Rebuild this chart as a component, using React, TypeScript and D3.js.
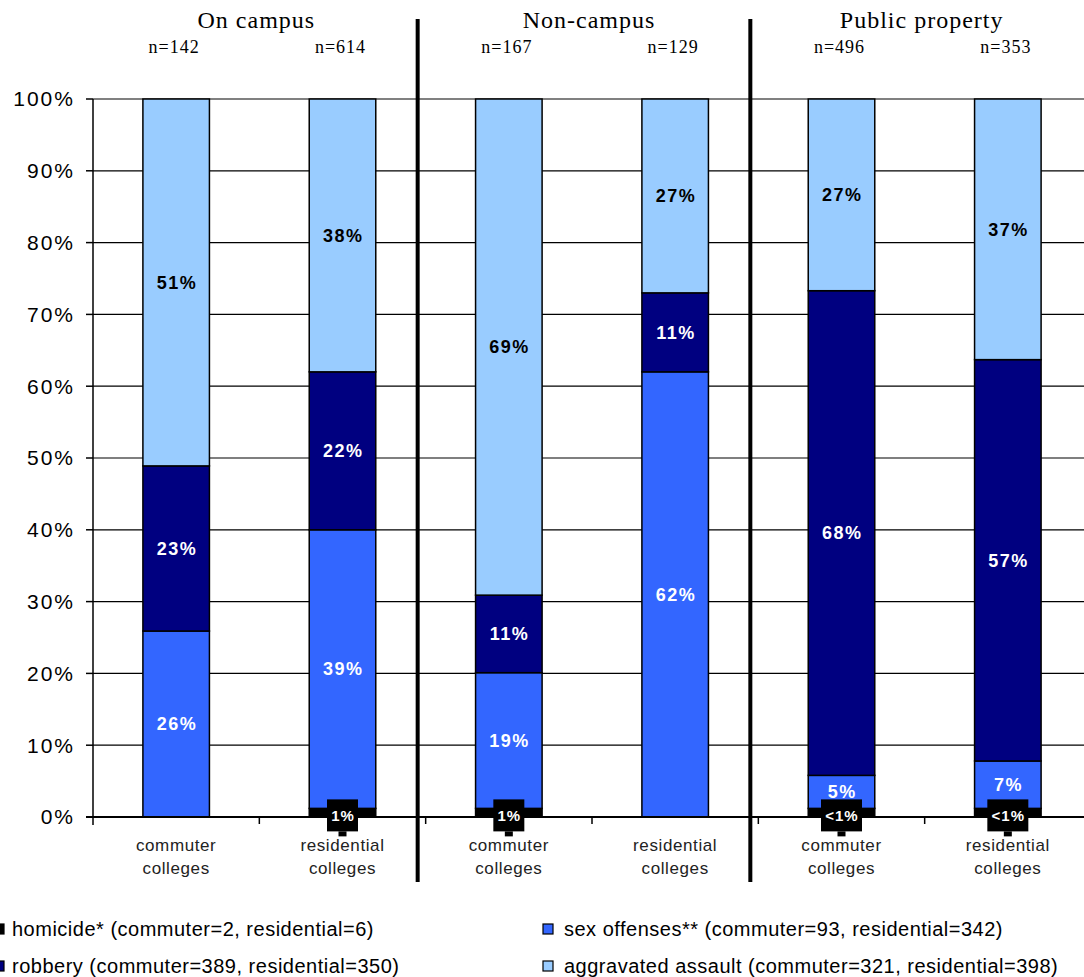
import React from 'react';
import * as d3 from 'd3';

const groups = ['On campus', 'Non-campus', 'Public property'];
const barKeys = ['oc-c', 'oc-r', 'nc-c', 'nc-r', 'pp-c', 'pp-r'];
const barGroup = [0, 0, 1, 1, 2, 2];
const collegeLines = [['commuter', 'colleges'], ['residential', 'colleges']];
const barCollege = [0, 1, 0, 1, 0, 1];
const nCounts = [142, 614, 167, 129, 496, 353];

const homicide = [0, 1.2, 1.2, 0, 1.2, 1.2];
const sexOffenses = [25.9, 38.8, 18.9, 62, 4.6, 6.6];
const robbery = [23, 22, 10.8, 11, 67.5, 55.9];
const aggravated = [51.1, 38, 69.1, 27, 26.7, 36.3];

const homicideLabels = ['', '1%', '1%', '', '<1%', '<1%'];
const sexLabels = ['26%', '39%', '19%', '62%', '5%', '7%'];
const robberyLabels = ['23%', '22%', '11%', '11%', '68%', '57%'];
const aggLabels = ['51%', '38%', '69%', '27%', '27%', '37%'];

const yTicks = [0, 10, 20, 30, 40, 50, 60, 70, 80, 90, 100];

const seriesKeys = ['homicide', 'sex', 'robbery', 'agg'];
const seriesColors = ['#000000', '#3366FF', '#000080', '#99CCFF'];
const legendTexts = [
  'homicide* (commuter=2, residential=6)',
  'sex offenses** (commuter=93, residential=342)',
  'robbery (commuter=389, residential=350)',
  'aggravated assault (commuter=321, residential=398)',
];
const legendColors = ['#000000', '#3366FF', '#000080', '#99CCFF'];

const W = 1084;
const H = 977;
const plotLeft = 93;
const plotRight = 1091;
const plotTop = 99;
const plotBottom = 817;

export default function App() {
  const x = d3.scaleBand<string>().domain(barKeys).range([plotLeft, plotRight]).paddingInner(0.6).paddingOuter(0.3);
  const y = d3.scaleLinear().domain([0, 100]).range([plotBottom, plotTop]);

  const table = barKeys.map((k, i) => ({
    key: k,
    homicide: homicide[i],
    sex: sexOffenses[i],
    robbery: robbery[i],
    agg: aggravated[i],
  }));
  const stacked = d3.stack<any>().keys(seriesKeys)(table);
  const labelSets: Record<string, string[]> = { homicide: homicideLabels, sex: sexLabels, robbery: robberyLabels, agg: aggLabels };

  const step = x.step();
  const boundaries = d3.range(1, barKeys.length).map(i => plotLeft + i * step);
  const dividers = [boundaries[1] - 8, boundaries[3] - 8];
  const bw = x.bandwidth();
  const cx = (i: number) => (x(barKeys[i]) as number) + bw / 2;

  const font = 'Arial, "Liberation Sans", Helvetica, sans-serif';
  const serif = '"Times New Roman", "Liberation Serif", Times, serif';

  return (
    <svg width={W} height={H} style={{ position: 'absolute', left: 0, top: 0, background: '#fff' }}>
      {/* gridlines */}
      {yTicks.filter(t => t > 0 && t < 100).map(t => (
        <line key={t} x1={plotLeft} x2={W} y1={y(t)} y2={y(t)} stroke="#000" strokeWidth={1.2} />
      ))}
      <line x1={plotLeft} x2={W} y1={y(100)} y2={y(100)} stroke="#808080" strokeWidth={2} />

      {/* bars */}
      {stacked.map((s, si) => (
        <g key={s.key}>
          {s.map((d, i) => {
            const h = y(d[0]) - y(d[1]);
            if (h <= 0) return null;
            return (
              <rect key={i} x={x(barKeys[i])} y={y(d[1])} width={bw} height={h}
                fill={seriesColors[si]} stroke="#000" strokeWidth={1.5} />
            );
          })}
        </g>
      ))}

      {/* axes */}
      <line x1={plotLeft} x2={plotLeft} y1={plotTop} y2={plotBottom + 8} stroke="#000" strokeWidth={1.5} />
      {yTicks.map(t => (
        <line key={t} x1={plotLeft - 7} x2={plotLeft} y1={y(t)} y2={y(t)} stroke="#000" strokeWidth={1.5} />
      ))}
      <line x1={plotLeft - 7} x2={W} y1={plotBottom} y2={plotBottom} stroke="#000" strokeWidth={2} />
      {boundaries.map((b, i) => (
        <line key={i} x1={b} x2={b} y1={plotBottom} y2={plotBottom + 7} stroke="#000" strokeWidth={1.5} />
      ))}
      {yTicks.map(t => (
        <text key={t} x={75} y={y(t)} dy="0.35em" textAnchor="end" fontFamily={font} fontSize={21}
          letterSpacing={2} fill="#000">
          {t}%
        </text>
      ))}

      {/* segment labels */}
      {stacked.map((s, si) => s.key === 'homicide' ? null : (
        <g key={s.key}>
          {s.map((d, i) => {
            const lab = labelSets[s.key as string][i];
            if (!lab) return null;
            return (
              <text key={i} x={cx(i) + 0.75} y={(y(d[0]) + y(d[1])) / 2} dy="0.35em" textAnchor="middle"
                fontFamily={font} fontWeight="bold" fontSize={18} letterSpacing={1.5}
                fill={s.key === 'agg' ? '#000' : '#fff'}>
                {lab}
              </text>
            );
          })}
        </g>
      ))}

      {/* homicide labels (boxed) */}
      {homicideLabels.map((lab, i) => {
        if (!lab) return null;
        const w = lab.length > 2 ? 41 : 31;
        const top = y(homicide[i]) - 9;
        return (
          <g key={i}>
            <rect x={cx(i) - w / 2} y={top} width={w} height={32} fill="#000" />
            <rect x={cx(i) - 4} y={top + 32} width={8} height={5} fill="#000" />
            <text x={cx(i) + 0.5} y={top + 16} dy="0.35em" textAnchor="middle" fontFamily={font}
              fontWeight="bold" fontSize={15} letterSpacing={1} fill="#fff">{lab}</text>
          </g>
        );
      })}

      {/* category labels */}
      {barKeys.map((k, i) => (
        <text key={k} x={cx(i)} textAnchor="middle" fontFamily={font} fontSize={17} letterSpacing={0.6} fill="#222">
          <tspan x={cx(i)} y={851}>{collegeLines[barCollege[i]][0]}</tspan>
          <tspan x={cx(i)} y={874}>{collegeLines[barCollege[i]][1]}</tspan>
        </text>
      ))}

      {/* group headers */}
      {groups.map((g, gi) => {
        const idx = barGroup.map((bg, i) => (bg === gi ? i : -1)).filter(i => i >= 0);
        const center = (cx(idx[0]) + cx(idx[idx.length - 1])) / 2 - 3;
        return (
          <text key={g} x={center} y={28} textAnchor="middle" fontFamily={serif} fontSize={24}
            letterSpacing={1} fill="#000">{g}</text>
        );
      })}
      {nCounts.map((n, i) => (
        <text key={i} x={cx(i) - 2} y={53} textAnchor="middle" fontFamily={serif} fontSize={18}
          letterSpacing={1} fill="#000">n={n}</text>
      ))}

      {/* dividers */}
      {dividers.map((dx, i) => (
        <line key={i} x1={dx} x2={dx} y1={19} y2={882} stroke="#000" strokeWidth={4} />
      ))}

      {/* legend */}
      {legendTexts.map((t, i) => {
        const col = i % 2;
        const row = Math.floor(i / 2);
        const lx = col === 0 ? -6 : 543;
        const tx = col === 0 ? 12 : 564;
        const ly = 929 + row * 37;
        return (
          <g key={i}>
            <rect x={lx} y={ly - 5} width={10} height={10} fill={legendColors[i]} stroke="#000" strokeWidth={1.2} />
            <text x={tx} y={ly} dy="0.35em" fontFamily={font} fontSize={20} letterSpacing={0.5} fill="#000">{t}</text>
          </g>
        );
      })}
    </svg>
  );
}
